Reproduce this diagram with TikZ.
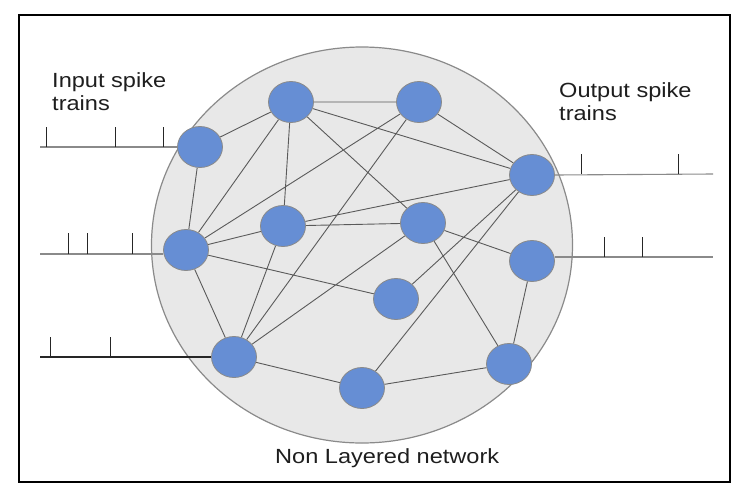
\documentclass[tikz,border=0pt]{standalone}
\usepackage{fontspec}
\usepackage{graphicx}
\setmainfont{Liberation Sans}
\usetikzlibrary{shapes.geometric}
\pgfdeclarelayer{background}
\pgfsetlayers{background,main}
\definecolor{neuron}{RGB}{102,142,212}
\definecolor{netfill}{RGB}{232,232,232}
\definecolor{netline}{RGB}{138,138,138}
\definecolor{edgecol}{RGB}{90,90,90}
\definecolor{txt}{RGB}{30,30,30}
\tikzset{
  neuronnode/.style={ellipse, fill=neuron, draw=netline, line width=0.8pt,
    minimum width=45pt, minimum height=41pt, inner sep=0pt},
  link/.style={draw=edgecol, line width=0.9pt},
  trainline/.style={draw=netline, line width=1.1pt},
  ticklin/.style={draw=black!85, line width=1pt},
  lbl/.style={text=txt, font=\fontsize{20.5}{23}\selectfont, inner sep=0pt, align=left},
}
\begin{document}
\begin{tikzpicture}[x=1pt,y=-1pt]
\useasboundingbox (0,0) rectangle (743,501);
\draw[black, line width=2pt] (19,15) rectangle (730,482);
% neurons
\node[neuronnode] (A) at (200,147) {};
\node[neuronnode] (B) at (291,102) {};
\node[neuronnode] (C) at (419,102) {};
\node[neuronnode] (D) at (532,175) {};
\node[neuronnode] (E) at (186,250) {};
\node[neuronnode] (F) at (283,226) {};
\node[neuronnode] (G) at (423,223) {};
\node[neuronnode] (H) at (532,261) {};
\node[neuronnode] (I) at (396,299) {};
\node[neuronnode] (J) at (234,357) {};
\node[neuronnode] (K) at (362,388) {};
\node[neuronnode] (L) at (509,364) {};
\begin{pgfonlayer}{background}
% network area
\draw[fill=netfill, draw=netline, line width=1.2pt] (362,245) ellipse [x radius=210.5, y radius=198];
% connections
\path[link] (A) -- (B) (A) -- (E)
  (B) -- (C) (B) -- (D) (B) -- (G) (B) -- (F) (B) -- (E)
  (C) -- (D) (C) -- (E) (C) -- (J)
  (D) -- (F) (D) -- (I) (D) -- (K)
  (E) -- (F) (E) -- (I) (E) -- (J)
  (F) -- (G) (F) -- (J)
  (G) -- (H) (G) -- (J) (G) -- (L)
  (H) -- (L) (J) -- (K) (K) -- (L);
\end{pgfonlayer}
% spike trains
\coordinate (in1) at (40,147);
\coordinate (in2) at (40,254);
\coordinate (in3) at (40,357);
\coordinate (out1) at (713,174);
\coordinate (out2) at (713,257);
\draw[trainline] (in1) -- (A.west);
\draw[trainline] (in2) -- (in2 -| E.west);
\draw[trainline, draw=black!85] (in3) -- (J.west);
\draw[trainline] (D.east) -- (out1);
\draw[trainline] (out2 -| H.east) -- (out2);
\foreach \x in {46,115,163} \draw[ticklin] (\x,147) -- (\x,127);
\foreach \x in {68,87,132} \draw[ticklin] (\x,254) -- (\x,233);
\foreach \x in {50,110} \draw[ticklin] (\x,357) -- (\x,337);
\foreach \x in {581,678} \draw[ticklin] (\x,174) -- (\x,154);
\foreach \x in {604,642} \draw[ticklin] (\x,257) -- (\x,237);
% labels
\node[lbl, anchor=north west] (inlbl) at (52,72) {\scalebox{1.15}[1]{Input spike}\\\scalebox{1.15}[1]{trains}};
\node[lbl, anchor=north west] (outlbl) at (559,82) {\scalebox{1.15}[1]{Output spike}\\\scalebox{1.15}[1]{trains}};
\node[lbl, anchor=base west] (netlbl) at (275,463) {\scalebox{1.15}[1]{Non Layered network}};
\end{tikzpicture}
\end{document}
